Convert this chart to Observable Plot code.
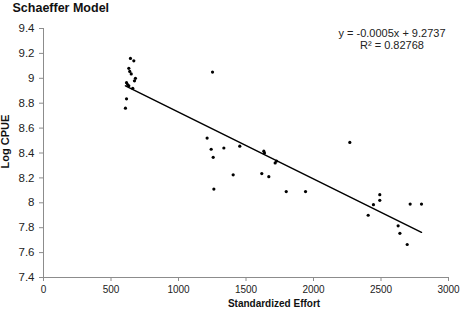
<!DOCTYPE html>
<html>
<head>
<meta charset="utf-8">
<script src="https://cdn.jsdelivr.net/npm/d3@7"></script>
<script src="https://cdn.jsdelivr.net/npm/@observablehq/plot@0.6"></script>
<style>
  html, body { margin: 0; padding: 0; background: #fff; }
  #chart svg { display: block; }
</style>
</head>
<body>
<div id="chart"></div>
<script>
const title = "Schaeffer Model";
const xLabel = "Standardized Effort";
const yLabel = "Log CPUE";
const equationLines = ["y = -0.0005x + 9.2737", "R² = 0.82768"];
const xTicks = [0, 500, 1000, 1500, 2000, 2500, 3000];
const yTicks = [7.4, 7.6, 7.8, 8, 8.2, 8.4, 8.6, 8.8, 9, 9.2, 9.4];

const effort = [644, 669, 632, 639, 650, 681, 674, 615, 632, 661, 623, 615, 607,
  1252, 1212, 1242, 1257, 1336, 1454, 1405, 1262,
  1632, 1637, 1726, 1716, 1617, 1669, 1798, 1941,
  2269, 2491, 2491, 2444, 2405, 2716, 2800, 2627, 2640, 2694];
const logCPUE = [9.16, 9.14, 9.08, 9.055, 9.035, 9.0, 8.98, 8.965, 8.94, 8.92, 8.95, 8.835, 8.76,
  9.05, 8.52, 8.43, 8.365, 8.44, 8.455, 8.225, 8.11,
  8.415, 8.40, 8.335, 8.32, 8.235, 8.21, 8.09, 8.09,
  8.485, 8.065, 8.02, 7.985, 7.9, 7.99, 7.99, 7.815, 7.755, 7.665];

const data = effort.map((e, i) => ({effort: e, cpue: logCPUE[i]}));
const axisColor = "#8c8c8c";
const textColor = "#222";

const chart = Plot.plot({
  width: 461,
  height: 310,
  marginLeft: 43,
  marginRight: 13,
  marginTop: 28,
  marginBottom: 33,
  style: {fontFamily: "'Liberation Sans', Arial, sans-serif", color: textColor, background: "#fff"},
  x: {domain: [0, 3000]},
  y: {domain: [7.4, 9.4]},
  marks: [
    Plot.axisX({ticks: xTicks, tickSize: 4, tickPadding: 4, fontSize: 10, tickFormat: "d", label: null, stroke: axisColor}),
    Plot.axisY({ticks: yTicks, tickSize: 4, tickPadding: 5, fontSize: 11.5, tickFormat: d => String(+d.toFixed(1)), label: null, stroke: axisColor}),
    Plot.ruleX([0], {stroke: axisColor}),
    Plot.ruleY([7.4], {stroke: axisColor}),
    Plot.linearRegressionY(data, {x: "effort", y: "cpue", ci: 0, stroke: "black", strokeWidth: 1.5}),
    Plot.dot(data, {x: "effort", y: "cpue", r: 1.6, fill: "black", stroke: null}),
    Plot.text([equationLines[0]], {frameAnchor: "top-right", text: d => d, dx: -56.5, dy: 4.7, lineAnchor: "middle", textAnchor: "middle", fontSize: 11, fill: textColor}),
    Plot.text([equationLines[1]], {frameAnchor: "top-right", text: d => d, dx: -56.5, dy: 17, lineAnchor: "middle", textAnchor: "middle", fontSize: 11, fill: textColor}),
    Plot.text([title], {frameAnchor: "top-left", text: d => d, dx: -31, dy: -20.5, lineAnchor: "middle", textAnchor: "start", fontSize: 12.5, fontWeight: "bold", fill: "#111"}),
    Plot.text([xLabel], {frameAnchor: "bottom", text: d => d, dx: 28, dy: 26.5, lineAnchor: "middle", textAnchor: "middle", fontSize: 10, fontWeight: "bold", fill: "#111"}),
    Plot.text([yLabel], {frameAnchor: "left", text: d => d, dx: -38, dy: -11.5, rotate: -90, lineAnchor: "middle", textAnchor: "middle", fontSize: 11, fontWeight: "bold", fill: "#111"})
  ]
});
document.getElementById("chart").appendChild(chart);
</script>
</body>
</html>
